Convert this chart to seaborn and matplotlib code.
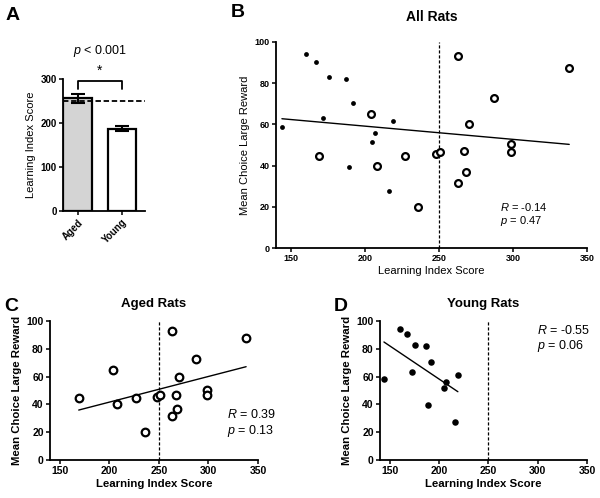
import numpy as np
import pandas as pd
import matplotlib
matplotlib.use("Agg")
import matplotlib.pyplot as plt
import seaborn as sns

sns.set_style("ticks")
plt.rcParams['font.family'] = ['Liberation Sans', 'DejaVu Sans']
plt.rcParams['mathtext.fontset'] = 'custom'
plt.rcParams['mathtext.it'] = 'Liberation Sans:italic'
plt.rcParams['mathtext.rm'] = 'Liberation Sans'
plt.rcParams['text.color'] = 'black'
plt.rcParams['axes.labelcolor'] = 'black'

# --- data ---
groups = ['Aged', 'Young']
group_means = [256, 187]
group_sem = [10, 6]

aged_lis = [169, 204, 208, 227, 236, 248, 251, 263, 263, 267, 268, 270, 287, 299, 299, 338]
aged_choice = [44.5, 65, 40, 44.5, 20, 45.5, 46.5, 93, 31.5, 47, 37, 60, 73, 50.5, 46.5, 87.5]

young_lis = [144, 160, 167, 172, 176, 187, 189, 192, 205, 207, 216, 219]
young_choice = [58.5, 94, 90.5, 63, 83, 82, 39.5, 70.5, 51.5, 56, 27.5, 61.5]

stats_all = ('-0.14', '0.47')
stats_aged = ('0.39', '0.13')
stats_young = ('-0.55', '0.06')

aged = pd.DataFrame({'lis': aged_lis, 'choice': aged_choice})
young = pd.DataFrame({'lis': young_lis, 'choice': young_choice})
both = pd.concat([aged, young], ignore_index=True)

W, H = 600, 498
fig = plt.figure(figsize=(W / 100, H / 100), dpi=100)

def px_axes(left, top, right, bottom):
    return fig.add_axes([left / W, 1 - bottom / H, (right - left) / W, (bottom - top) / H])

def style_axes(ax, tick_fs):
    sns.despine(ax=ax)
    for s in ['left', 'bottom']:
        ax.spines[s].set_linewidth(1.3)
        ax.spines[s].set_color('black')
    ax.tick_params(axis='both', length=3, width=1.1, labelsize=tick_fs, pad=1.5, colors='black')
    for lab in ax.get_xticklabels() + ax.get_yticklabels():
        lab.set_fontweight('bold')

def scatter_panel(ax, open_df, filled_df, fit_df, tick_fs, lab_fs, lab_weight, s_open, s_fill):
    ax.axvline(250, color='black', lw=0.9, ls=(0, (2.5, 1.5)))
    if open_df is not None:
        sns.scatterplot(data=open_df, x='lis', y='choice', ax=ax, s=s_open, facecolor='white',
                        edgecolor='black', linewidth=1.6, zorder=3)
    if filled_df is not None:
        sns.scatterplot(data=filled_df, x='lis', y='choice', ax=ax, s=s_fill, color='black',
                        edgecolor='black', linewidth=0, zorder=3)
    sns.regplot(data=fit_df, x='lis', y='choice', ax=ax, scatter=False, ci=None,
                truncate=True, line_kws={'color': 'black', 'lw': 1.0})
    ax.set_xlim(140, 350)
    ax.set_ylim(0, 100)
    ax.set_xticks([150, 200, 250, 300, 350])
    ax.set_yticks([0, 20, 40, 60, 80, 100])
    ax.set_xlabel('Learning Index Score', fontsize=lab_fs, fontweight=lab_weight, labelpad=2)
    ax.set_ylabel('Mean Choice Large Reward', fontsize=lab_fs, fontweight=lab_weight, labelpad=3)
    style_axes(ax, tick_fs)

def stat_text(ax, x, y_r, y_p, stats, fs):
    ax.text(x, y_r, '$R$ = ' + stats[0], transform=ax.transAxes, fontsize=fs, ha='left')
    ax.text(x, y_p, '$p$ = ' + stats[1], transform=ax.transAxes, fontsize=fs, ha='left')

# ---- Panel A: bar chart ----
axA = px_axes(63, 79, 145, 211)
sns.barplot(x=groups, y=group_means, ax=axA, width=0.65, palette=['#d4d4d4', 'white'],
            hue=groups, legend=False, edgecolor='black', linewidth=1.6)
axA.errorbar([0, 1], group_means, yerr=group_sem, fmt='none', ecolor='black',
             elinewidth=1.5, capsize=5, capthick=1.5)
axA.axhline(250, color='black', lw=1.3, ls=(0, (3, 1.5)))
axA.plot([0, 0, 1, 1], [277, 296, 296, 277], color='black', lw=1.3)
axA.text(0.5, 303, '*', ha='center', va='bottom', fontsize=10)
axA.text(0.5, 345, '$p$ < 0.001', ha='center', va='bottom', fontsize=9)
axA.set_xlim(-0.33, 1.52)
axA.set_ylim(0, 300)
axA.set_yticks([0, 100, 200, 300])
axA.set_ylabel('Learning Index Score', fontsize=8, labelpad=3)
style_axes(axA, 7)
plt.setp(axA.get_xticklabels(), rotation=45, ha='right', rotation_mode='anchor')

# ---- Panel B: all rats ----
axB = px_axes(276, 42, 587, 248)
scatter_panel(axB, aged, young, both, 6.5, 8, 'normal', 24, 12)
axB.set_title('All Rats', fontsize=10, fontweight='bold', pad=15)
stat_text(axB, 0.72, 0.18, 0.115, stats_all, 8)

# ---- Panel C: aged rats ----
axC = px_axes(50, 321, 258, 460)
scatter_panel(axC, aged, None, aged, 7.5, 8.2, 'bold', 30, 20)
axC.set_title('Aged Rats', fontsize=9.5, fontweight='bold', pad=10)
stat_text(axC, 0.85, 0.30, 0.19, stats_aged, 9)

# ---- Panel D: young rats ----
axD = px_axes(380, 321, 587, 460)
scatter_panel(axD, None, young, young, 7.5, 8.2, 'bold', 30, 22)
axD.set_title('Young Rats', fontsize=9.5, fontweight='bold', pad=10)
stat_text(axD, 0.76, 0.91, 0.80, stats_young, 9)

# panel letters
for letter, x, y in [('A', 6, 7), ('B', 231, 4), ('C', 4, 298), ('D', 334, 298)]:
    fig.text(x / W, 1 - y / H, letter, fontsize=14, fontweight='bold', va='top', color='black')

fig.savefig('out.png', dpi=100)
